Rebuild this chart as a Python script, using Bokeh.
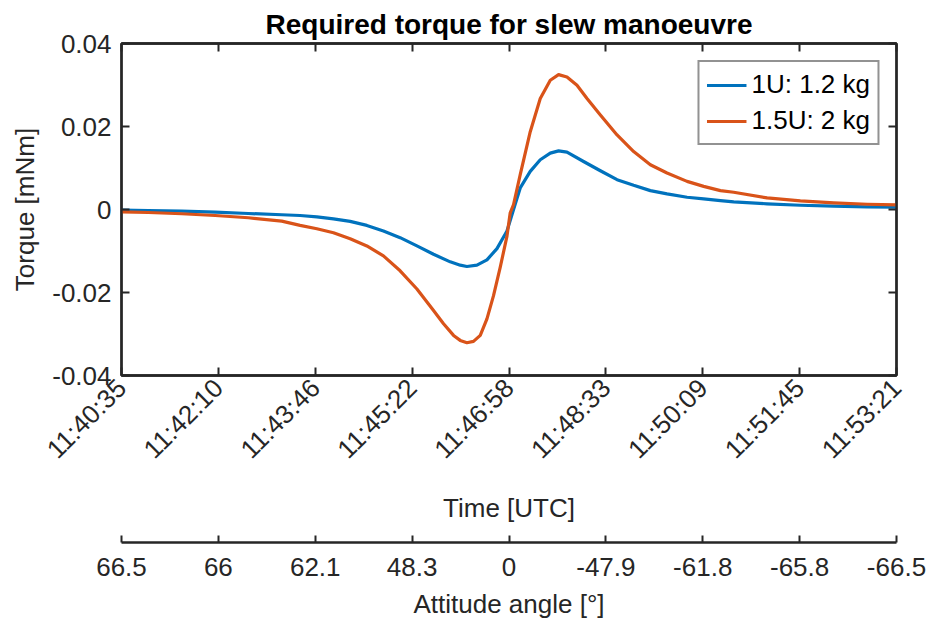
import math
from bokeh.plotting import figure
from bokeh.models import (Range1d, LinearAxis, FixedTicker, Legend, LegendItem)
from bokeh.embed import file_html
from bokeh.resources import INLINE

# ---- data (time in seconds after 11:40:35, torque in mNm) ----
t_blue = [0, 26.5, 59.5, 92.5, 125.4, 158.4, 176.5, 193.1, 209.5, 226, 242.5, 258.9,
          275.4, 292, 308.4, 324.9, 334.8, 341.4, 351.3, 361.2, 371.1, 381, 387.5,
          394.1, 404, 413.9, 423.8, 432, 440.3, 456.7, 473.3, 489.8, 506.2, 522.7,
          539.2, 559, 575.4, 592, 605.1, 638.1, 671, 704, 737, 766]
v_blue = [-0.00017, -0.00024, -0.0004, -0.00064, -0.00096, -0.00127, -0.00144, -0.00176,
          -0.00224, -0.00287, -0.00383, -0.0052, -0.00679, -0.00878, -0.01078, -0.01261,
          -0.01341, -0.01373, -0.01341, -0.01214, -0.00942, -0.0052, 0.0,
          0.0052, 0.00918, 0.01198, 0.01358, 0.01413, 0.01382, 0.01157, 0.00934, 0.00719,
          0.00582, 0.00455, 0.00376, 0.00295, 0.00256, 0.00216, 0.00184, 0.00137, 0.00103,
          0.00079, 0.00065, 0.00055]

t_orange = [0, 26.5, 59.5, 92.5, 125.4, 158.4, 176.5, 193.1, 209.5, 226, 242.5, 258.9,
            275.4, 292, 308.4, 318.3, 328.2, 334.8, 341.4, 347.9, 354.6, 361.2, 367.7,
            374.3, 381, 384.2, 387.5, 394.1, 404, 413.9, 423.8, 432, 440.3, 450.2, 460.1,
            473.3, 489.8, 506.2, 522.7, 539.2, 559, 575.4, 592, 605.1, 638.1, 671, 704,
            737, 766]
v_orange = [-0.00055, -0.00072, -0.00103, -0.00144, -0.00199, -0.0028, -0.00383, -0.00463,
            -0.00559, -0.00703, -0.00878, -0.01118, -0.01477, -0.01916, -0.02435, -0.02754,
            -0.03034, -0.03154, -0.0321, -0.03178, -0.03034, -0.02635, -0.02076, -0.01397,
            -0.0064, -0.00079, 0.0012, 0.00838, 0.01875, 0.02675, 0.03114, 0.0325, 0.03193,
            0.02994, 0.02675, 0.02275, 0.01796, 0.01396, 0.01078, 0.00879, 0.00678,
            0.00558, 0.00455, 0.00415, 0.0028, 0.00208, 0.0016, 0.00127, 0.00113]

series_names = ["1U: 1.2 kg", "1.5U: 2 kg"]
time_ticks = [0, 95.75, 191.5, 287.25, 383, 478.75, 574.5, 670.25, 766]
time_labels = ["11:40:35", "11:42:10", "11:43:46", "11:45:22", "11:46:58",
               "11:48:33", "11:50:09", "11:51:45", "11:53:21"]
angle_labels = ["66.5", "66", "62.1", "48.3", "0", "-47.9", "-61.8", "-65.8", "-66.5"]
y_ticks = [-0.04, -0.02, 0, 0.02, 0.04]
y_labels = ["-0.04", "-0.02", "0", "0.02", "0.04"]

FONT = "Liberation Sans"
AX = "#262626"
FS = "26px"

p = figure(width=930, height=621, output_backend="svg", toolbar_location=None,
           x_range=Range1d(0, 766), y_range=Range1d(-0.04, 0.04),
           x_axis_location=None, y_axis_location=None,
           min_border_left=121, min_border_right=34, min_border_top=43,
           min_border_bottom=244)
p.grid.visible = False
p.outline_line_color = AX
p.outline_line_width = 2.3
p.background_fill_color = "white"
p.border_fill_color = "white"

p.title.text = "Required torque for slew manoeuvre"
p.title.text_font = FONT
p.title.text_font_size = "28px"
p.title.text_font_style = "bold"
p.title.text_color = "#000000"
p.title.align = "center"
p.title.standoff = 7


def style_axis(ax):
    ax.axis_line_color = AX
    ax.axis_line_width = 2.3
    ax.major_tick_line_color = AX
    ax.major_tick_line_width = 2
    ax.minor_tick_line_color = None
    ax.major_tick_in = 8
    ax.major_tick_out = 0
    ax.major_label_text_font = FONT
    ax.major_label_text_font_size = FS
    ax.major_label_text_color = AX
    ax.axis_label_text_font = FONT
    ax.axis_label_text_font_size = FS
    ax.axis_label_text_font_style = "normal"
    ax.axis_label_text_color = AX


# left axis
ly = LinearAxis(ticker=FixedTicker(ticks=y_ticks),
                major_label_overrides=dict(zip(y_ticks, y_labels)),
                axis_label="Torque [mNm]")
style_axis(ly)
ly.major_label_standoff = 10
ly.axis_label_standoff = 9
p.add_layout(ly, "left")

# right axis (ticks only)
ry = LinearAxis(ticker=FixedTicker(ticks=y_ticks))
style_axis(ry)
ry.major_label_text_color = None
ry.major_label_text_font_size = "1px"
ry.major_label_standoff = 0
p.add_layout(ry, "right")

# top axis (ticks only)
tx = LinearAxis(ticker=FixedTicker(ticks=time_ticks))
style_axis(tx)
tx.major_label_text_color = None
tx.major_label_text_font_size = "1px"
tx.major_label_standoff = 0
p.add_layout(tx, "above")

# bottom time axis
bx = LinearAxis(ticker=FixedTicker(ticks=time_ticks),
                major_label_overrides=dict(zip(time_ticks, time_labels)),
                axis_label="Time [UTC]")
style_axis(bx)
bx.major_label_orientation = math.pi / 4
bx.major_label_standoff = 8
bx.axis_label_standoff = 15
p.add_layout(bx, "below")

# spacer between the two bottom axes (invisible tick, no visible label)
sp = LinearAxis(ticker=FixedTicker(ticks=[time_ticks[4]]))
sp.axis_line_color = None
sp.major_tick_line_color = None
sp.minor_tick_line_color = None
sp.major_tick_in = 0
sp.major_tick_out = 17
sp.major_label_standoff = 0
sp.major_label_text_font_size = "1px"
sp.major_label_text_color = None
p.add_layout(sp, "below")

# attitude angle axis
ax2 = LinearAxis(ticker=FixedTicker(ticks=time_ticks),
                 major_label_overrides=dict(zip(time_ticks, angle_labels)),
                 axis_label="Attitude angle [°]")
style_axis(ax2)
ax2.major_tick_in = 7
ax2.major_label_standoff = 15
ax2.axis_label_standoff = 10
p.add_layout(ax2, "below")

r1 = p.line(t_blue, v_blue, line_color="#0072BD", line_width=3.2, line_join="round")
r2 = p.line(t_orange, v_orange, line_color="#D95319", line_width=3.2, line_join="round")

legend = Legend(items=[LegendItem(label=series_names[0], renderers=[r1]),
                       LegendItem(label=series_names[1], renderers=[r2])],
                location="top_right")
legend.margin = 17
legend.padding = 7
legend.spacing = 5
legend.glyph_width = 40
legend.glyph_height = 20
legend.label_standoff = 5
legend.label_text_font = FONT
legend.label_text_font_size = FS
legend.label_text_color = "#000000"
legend.border_line_color = AX
legend.border_line_width = 2.3
legend.background_fill_color = "white"
legend.background_fill_alpha = 1
p.add_layout(legend, "center")

open("out.html", "w").write(file_html(p, INLINE))
